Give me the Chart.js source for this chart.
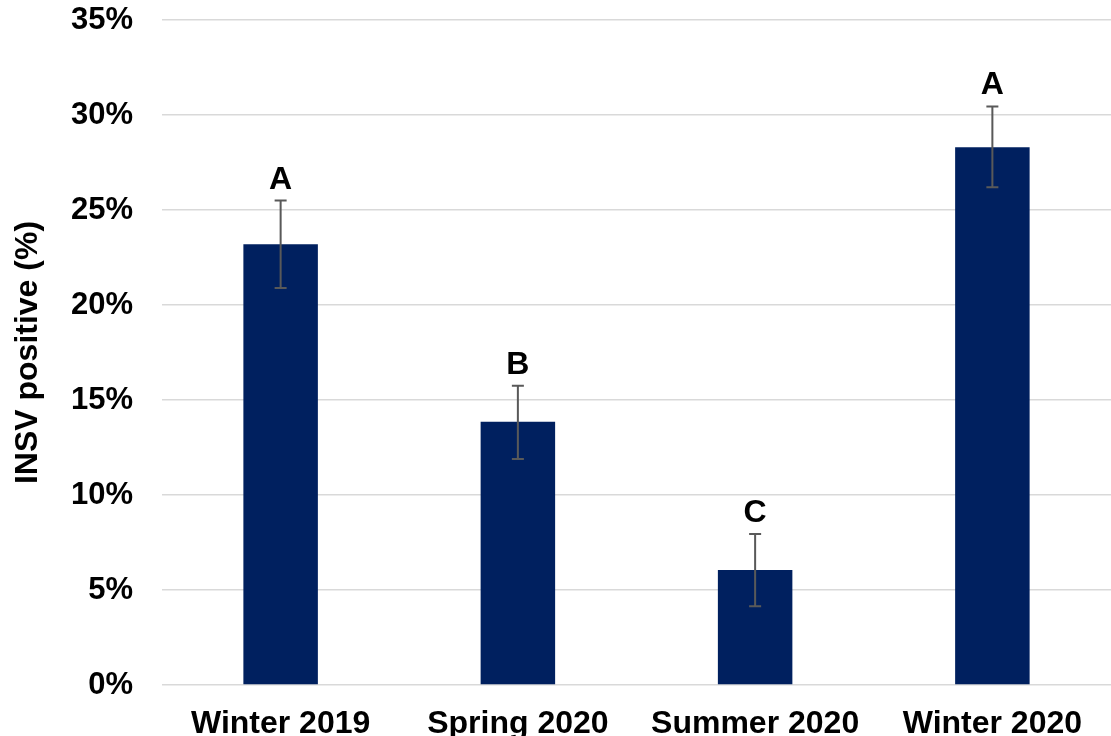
<!DOCTYPE html>
<html>
<head>
<meta charset="utf-8">
<script src="https://cdn.jsdelivr.net/npm/chart.js@4.4.1/dist/chart.umd.min.js"></script>
<style>
  html, body { margin: 0; padding: 0; background: #fff; }
  #wrap { width: 1111px; height: 736px; }
</style>
</head>
<body>
<div id="wrap"><canvas id="chart"></canvas></div>
<script>
const seasons = ['Winter 2019', 'Spring 2020', 'Summer 2020', 'Winter 2020'];
const positive = [23.2, 13.85, 6.05, 28.3];
const errLow = [20.9, 11.9, 4.15, 26.2];
const errHigh = [25.5, 15.75, 7.95, 30.45];
const groups = ['A', 'B', 'C', 'A'];

const FONT = "'Liberation Sans', Arial, sans-serif";

// error bars + significance letters drawn on top of the bars
const errorBars = {
  id: 'errorBars',
  afterDatasetsDraw(chart) {
    const c = chart.ctx;
    const meta = chart.getDatasetMeta(0);
    const y = chart.scales.y;
    c.save();
    meta.data.forEach((bar, i) => {
      const x = bar.x;
      const top = y.getPixelForValue(errHigh[i]);
      const bot = y.getPixelForValue(errLow[i]);
      c.strokeStyle = '#595959';
      c.lineWidth = 2;
      c.beginPath();
      c.moveTo(x, top); c.lineTo(x, bot);
      c.moveTo(x - 6, top); c.lineTo(x + 6, top);
      c.moveTo(x - 6, bot); c.lineTo(x + 6, bot);
      c.stroke();
      c.fillStyle = '#000';
      c.font = 'bold 32px ' + FONT;
      c.textAlign = 'center';
      c.textBaseline = 'alphabetic';
      c.fillText(groups[i], x, top - 12);
    });
    c.restore();
  }
};

new Chart(document.getElementById('chart'), {
  type: 'bar',
  data: {
    labels: seasons,
    datasets: [{
      label: 'INSV positive',
      data: positive,
      backgroundColor: '#00205f',
      borderWidth: 0,
      categoryPercentage: 1,
      barPercentage: 0.314
    }]
  },
  options: {
    responsive: true,
    maintainAspectRatio: false,
    animation: false,
    layout: { padding: 0 },
    plugins: {
      legend: { display: false },
      tooltip: { enabled: false }
    },
    scales: {
      x: {
        grid: { display: false },
        border: { display: false },
        ticks: {
          color: '#000',
          font: { family: FONT, size: 32, weight: 'bold' },
          padding: 12,
          maxRotation: 0,
          autoSkip: false
        },
        afterFit(scale) { scale.height = 51; }
      },
      y: {
        min: 0,
        max: 35,
        grid: { color: '#d9d9d9', lineWidth: 1.5, drawTicks: false },
        border: { display: false },
        ticks: {
          stepSize: 5,
          color: '#000',
          padding: 29,
          font: { family: FONT, size: 31, weight: 'bold' },
          callback: v => v + '%'
        },
        title: {
          display: true,
          text: 'INSV positive (%)',
          color: '#000',
          font: { family: FONT, size: 32, weight: 'bold' },
          padding: { top: 9, bottom: 0 }
        },
        afterFit(scale) {
          scale.width = 162;
          scale.paddingTop = 20;
          scale.paddingBottom = 0;
        }
      }
    }
  },
  plugins: [errorBars]
});
</script>
</body>
</html>
